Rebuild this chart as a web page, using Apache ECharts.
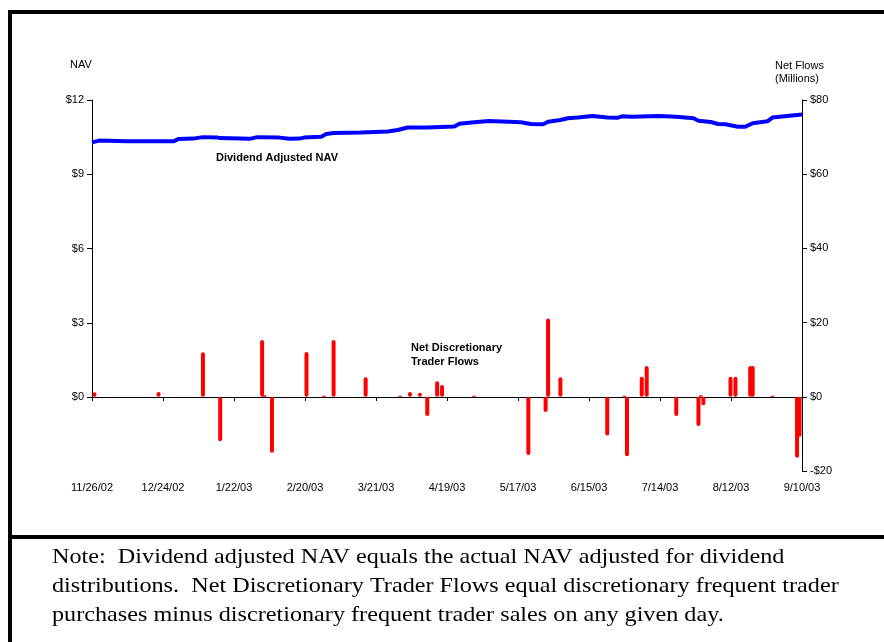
<!DOCTYPE html>
<html>
<head>
<meta charset="utf-8">
<script src="https://cdn.jsdelivr.net/npm/echarts@6/dist/echarts.min.js"></script>
<style>
  html, body { margin: 0; padding: 0; background: #fff; }
  #chart { width: 884px; height: 642px; }
</style>
</head>
<body>
<div id="chart"></div>
<script>
// x positions are days after 11/26/02
const dateLabels = ['11/26/02', '12/24/02', '1/22/03', '2/20/03', '3/21/03', '4/19/03',
  '5/17/03', '6/15/03', '7/14/03', '8/12/03', '9/10/03'];

// Dividend adjusted NAV ($)
const navDays = [0, 3, 14, 33, 35, 41, 45, 51, 52, 64, 67, 76, 80, 84, 86, 93, 95, 98, 109, 120,
  124, 128, 136, 147, 149, 155, 161, 174, 178, 183, 185, 190, 193, 197, 203, 209, 213, 215, 219,
  230, 237, 244, 246, 251, 254, 257, 262, 265, 268, 274, 276, 282, 288];
const navValues = [10.29, 10.36, 10.33, 10.33, 10.42, 10.44, 10.50, 10.48, 10.46, 10.43, 10.50,
  10.48, 10.43, 10.44, 10.48, 10.52, 10.63, 10.67, 10.69, 10.73, 10.79, 10.89, 10.89, 10.93,
  11.04, 11.10, 11.15, 11.10, 11.03, 11.02, 11.12, 11.19, 11.26, 11.29, 11.35, 11.29, 11.28,
  11.34, 11.32, 11.35, 11.32, 11.26, 11.16, 11.11, 11.03, 11.02, 10.92, 10.92, 11.06, 11.14,
  11.29, 11.35, 11.41];

// Net discretionary trader flows ($ millions)
const flowDays = [1, 27, 45, 52, 69, 70, 73, 87, 94, 98, 111, 125, 129, 133, 136, 140, 142, 155,
  177, 184, 185, 190, 209, 216, 217, 223, 225, 237, 246, 247, 248, 259, 261, 267, 268, 276, 286, 287];
const flowValues = [1.2, 1.3, 12, -12, 15.3, 0.4, -15.1, 12.1, 0.3, 15.3, 5.3, 0.3, 1.3, 1.1, -5.2,
  4.2, 3.2, 0.3, -15.7, -4.1, 21.1, 5.3, -10.4, 0.3, -16, 5.4, 8.3, -5.2, -7.9, 0.4, -2.3, 5.4,
  5.4, 8.3, 8.3, 0.3, -16.4, -10.8];

const navData = navDays.map((d, i) => [d, navValues[i]]);
const flowData = flowDays.map((d, i) => [d, flowValues[i]]);

const font = 'Liberation Sans, Arial, sans-serif';
const dayStep = 28.8;

const chart = echarts.init(document.getElementById('chart'));

const option = {
  animation: false,
  backgroundColor: '#fff',
  textStyle: { fontFamily: font },
  grid: [
    { left: 92, right: 82, top: 100, bottom: 245 },
    { left: 92, right: 82, top: 100, bottom: 171 }
  ],
  xAxis: [
    {
      type: 'value', gridIndex: 0, min: 0, max: 288, interval: dayStep,
      axisLine: { lineStyle: { color: '#000', width: 1 } },
      axisTick: { show: true, length: 4, lineStyle: { color: '#000' } },
      axisLabel: { show: false },
      splitLine: { show: false }
    },
    {
      type: 'value', gridIndex: 1, min: 0, max: 288, interval: dayStep,
      axisLine: { show: false },
      axisTick: { show: false },
      splitLine: { show: false },
      axisLabel: {
        color: '#000', fontSize: 11, fontFamily: font, margin: 11,
        showMinLabel: true, showMaxLabel: true,
        formatter: v => dateLabels[Math.round(v / dayStep)] || ''
      }
    }
  ],
  yAxis: [
    {
      type: 'value', gridIndex: 0, min: 0, max: 12, interval: 3, position: 'left',
      axisLine: { show: true, lineStyle: { color: '#000', width: 1 } },
      axisTick: { show: true, length: 5, lineStyle: { color: '#000' } },
      axisLabel: { color: '#000', fontSize: 11, fontFamily: font, margin: 8, formatter: v => '$' + v },
      splitLine: { show: false }
    },
    {
      type: 'value', gridIndex: 1, min: -20, max: 80, interval: 20, position: 'right',
      axisLine: { show: true, onZero: false, lineStyle: { color: '#000', width: 1 } },
      axisTick: { show: true, length: 5, lineStyle: { color: '#000' } },
      axisLabel: {
        color: '#000', fontSize: 11, fontFamily: font, margin: 8,
        formatter: v => (v < 0 ? '-$' + Math.abs(v) : '$' + v)
      },
      splitLine: { show: false }
    }
  ],
  series: [
    {
      name: 'Net Discretionary Trader Flows',
      type: 'bar',
      xAxisIndex: 1, yAxisIndex: 1,
      data: flowData,
      barWidth: 4,
      itemStyle: { color: '#ff0000', borderRadius: 2 }
    },
    {
      name: 'Dividend Adjusted NAV',
      type: 'line',
      xAxisIndex: 0, yAxisIndex: 0,
      data: navData,
      showSymbol: false,
      lineStyle: { color: '#0000ff', width: 4 },
      z: 5
    }
  ],
  graphic: [
    // frame
    { type: 'rect', shape: { x: 8, y: 10, width: 876, height: 4 }, style: { fill: '#000' } },
    { type: 'rect', shape: { x: 8, y: 10, width: 4, height: 632 }, style: { fill: '#000' } },
    { type: 'rect', shape: { x: 8, y: 535, width: 876, height: 4 }, style: { fill: '#000' } },
    // axis titles
    { type: 'text', left: 70, top: 59, style: { text: 'NAV', font: '11px ' + font, fill: '#000' } },
    {
      type: 'text', left: 775, top: 59,
      style: { text: 'Net Flows\n(Millions)', font: '11px ' + font, fill: '#000', align: 'center', lineHeight: 13 }
    },
    // series labels
    {
      type: 'text', left: 216, top: 152,
      style: { text: 'Dividend Adjusted NAV', font: 'bold 11px ' + font, fill: '#000' }
    },
    {
      type: 'text', left: 411, top: 341,
      style: { text: 'Net Discretionary\nTrader Flows', font: 'bold 11px ' + font, fill: '#000', align: 'center', lineHeight: 14 }
    },
    // note
    {
      type: 'text', x: 52, y: 543, scaleX: 1.1,
      style: {
        text: 'Note:  Dividend adjusted NAV equals the actual NAV adjusted for dividend\n' +
          'distributions.  Net Discretionary Trader Flows equal discretionary frequent trader\n' +
          'purchases minus discretionary frequent trader sales on any given day.',
        font: '22px Liberation Serif, Times New Roman, serif', fill: '#000', lineHeight: 29
      }
    }
  ]
};

chart.setOption(option);
</script>
</body>
</html>
